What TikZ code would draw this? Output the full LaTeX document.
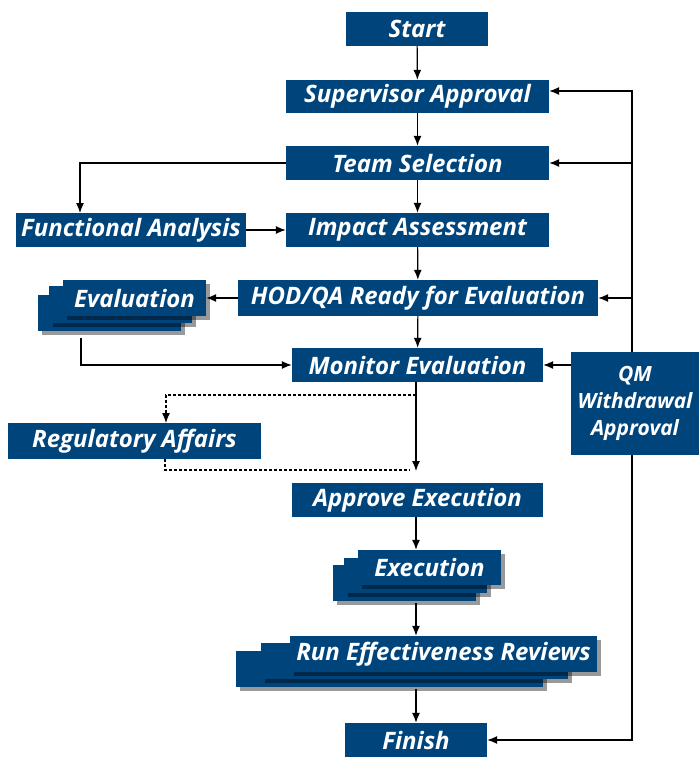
\documentclass[tikz,border=0pt]{standalone}
\usepackage{fontspec}
\setmainfont{Open Sans}
\usetikzlibrary{arrows.meta,shadows}
\definecolor{boxblue}{RGB}{0,68,124}

\tikzset{
  box/.style={fill=boxblue, text=white, inner sep=0pt, minimum height=34pt,
    font=\bfseries\itshape\fontsize{24}{27}\selectfont},
  stackbox/.style={box, drop shadow={fill=black, opacity=0.4, shadow xshift=4pt, shadow yshift=-4pt}},
  flow/.style={-{Latex[length=10pt,width=8pt]}, line width=1.2pt},
  dflow/.style={flow, dash pattern=on 3pt off 2pt},
  dline/.style={line width=1.2pt, dash pattern=on 3pt off 2pt}
}

\begin{document}
\begin{tikzpicture}[x=1pt,y=-1pt]
  \useasboundingbox (0,0) rectangle (699,757);

  % main column
  \node[box, minimum width=142pt] (start) at (417,29) {Start};
  \node[box, minimum width=263pt, minimum height=33pt] (sup) at (417.5,96.5) {Supervisor Approval};
  \node[box, minimum width=263pt] (team) at (417.5,163) {Team Selection};
  \node[box, minimum width=230pt] (func) at (131,230) {Functional Analysis};
  \node[box, minimum width=263pt] (impact) at (417.5,230) {Impact Assessment};

  % stacked evaluation
  \node[stackbox, minimum width=143pt, minimum height=36pt] (evalC) at (109.5,313) {};
  \node[stackbox, minimum width=143pt, minimum height=37pt] (evalB) at (120.5,304.5) {};
  \node[stackbox, minimum width=143pt, minimum height=36pt] (eval) at (134.5,298) {Evaluation};

  \node[box, minimum width=360pt, minimum height=36pt] (hod) at (418,298) {HOD/QA Ready for Evaluation};
  \node[box, minimum width=251pt] (mon) at (417.5,365) {Monitor Evaluation};
  \node[box, minimum width=128pt, minimum height=103pt, align=center,
    font=\bfseries\itshape\fontsize{21}{27}\selectfont] (qm) at (635,403.5)
    {QM\\Withdrawal\\Approval};
  \node[box, minimum width=253pt, minimum height=36pt] (reg) at (134.5,441) {Regulatory Affairs};
  \node[box, minimum width=251pt] (appr) at (417.5,500) {Approve Execution};

  % stacked execution
  \node[stackbox, minimum width=143pt, minimum height=36pt] (execC) at (404.5,583) {};
  \node[stackbox, minimum width=143pt, minimum height=35pt] (execB) at (415.5,575.5) {};
  \node[stackbox, minimum width=143pt, minimum height=35pt] (exec) at (429.5,567.5) {Execution};

  % stacked reviews
  \node[stackbox, minimum width=307pt, minimum height=36pt] (runC) at (389.5,669) {};
  \node[stackbox, minimum width=307pt, minimum height=36pt] (runB) at (414.5,661) {};
  \node[stackbox, minimum width=307pt, minimum height=36pt] (run) at (443.5,654) {Run Effectiveness Reviews};

  \node[box, minimum width=142pt] (fin) at (416,740) {Finish};

  % helper points
  \coordinate (fa) at (80,213);
  \coordinate (ev) at (81,338);
  \coordinate (ap) at (416,471);
  \coordinate (ds) at (416,395);
  \coordinate (rt) at (166,423);
  \coordinate (rb) at (165,459);
  \coordinate (de) at (410,470);
  \coordinate (rtop) at (632,91);

  % arrows
  \draw[flow] (start) -- (sup);
  \draw[flow] (sup) -- (team);
  \draw[flow] (team) -- (impact);
  \draw[flow] (team.west) -| (fa);
  \draw[flow] (func) -- (impact);
  \draw[flow] (impact) -- (hod);
  \draw[flow] (hod.west) -- (eval.east);
  \draw[flow] (hod) -- (mon);
  \draw[flow] (ev) |- (mon.west);
  \draw[flow] (mon.south -| ap) -- (ap);
  \draw[dflow] (ds) -| (rt);
  \draw[dline] (rb) |- (de);
  \draw[flow] (appr.south -| ap) -- (ap |- exec.north);
  \draw[flow] ([yshift=-2pt]ap |- execC.south) -- (ap |- run.north);
  \draw[flow] ([yshift=-2pt]ap |- runC.south) -- (ap |- fin.north);

  % right return line
  \draw[flow] (qm.north -| rtop) -- (rtop) -- (rtop -| sup.east);
  \draw[flow] (rtop |- team.east) -- (team.east);
  \draw[flow] (rtop |- hod.east) -- (hod.east);
  \draw[flow] (qm.west |- mon.east) -- (mon.east);
  \draw[flow] (qm.south -| rtop) |- (fin.east);
\end{tikzpicture}
\end{document}
